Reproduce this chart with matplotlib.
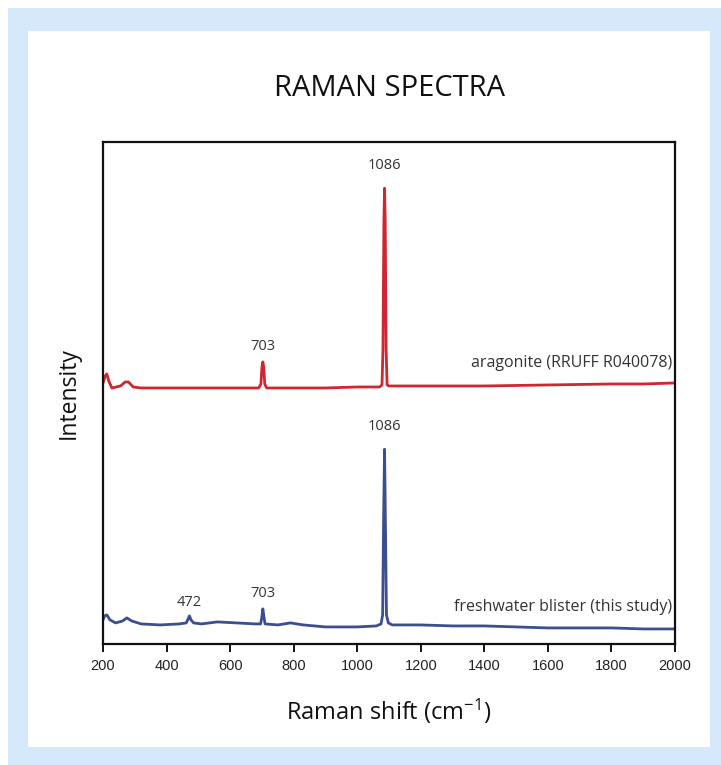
import matplotlib
matplotlib.use("Agg")
import matplotlib.pyplot as plt
from matplotlib.patches import Rectangle

# Raman shift (cm-1) and relative intensity
blister_x = [200, 205, 212, 222, 240, 262, 275, 290, 320, 380, 440, 462, 468, 472, 477, 485,
             510, 560, 620, 680, 696, 700, 703, 706, 710, 750, 790, 830, 900, 1000, 1060, 1075,
             1080, 1083, 1086, 1089, 1092, 1098, 1110, 1200, 1300, 1400, 1500, 1600, 1700,
             1800, 1900, 2000]
blister_y = [4.8, 5.6, 5.8, 4.8, 4.2, 4.6, 5.2, 4.6, 4.0, 3.8, 4.0, 4.2, 5.0, 5.6, 4.8, 4.2,
             4.0, 4.4, 4.2, 4.0, 4.0, 5.4, 7.0, 5.6, 4.0, 3.8, 4.2, 3.8, 3.4, 3.4, 3.6, 4.0,
             5.8, 24.7, 38.8, 22.7, 5.8, 4.2, 3.8, 3.8, 3.6, 3.6, 3.4, 3.2, 3.2,
             3.2, 3.0, 3.0]

aragonite_x = [200, 207, 212, 218, 228, 255, 270, 280, 295, 320, 500, 690, 697, 700, 703, 706,
               709, 715, 800, 900, 1000, 1070, 1078, 1081, 1084, 1086, 1088, 1091, 1094, 1100,
               1200, 1400, 1600, 1800, 1900, 2000]
aragonite_y = [52.0, 53.4, 53.8, 52.4, 51.0, 51.4, 52.2, 52.2, 51.2, 51.0, 51.0, 51.0, 51.8, 55.0,
               56.2, 55.0, 51.8, 51.0, 51.0, 51.0, 51.2, 51.2, 51.6, 58.6, 84.5, 90.8, 84.5, 58.6,
               51.6, 51.4, 51.4, 51.4, 51.6, 51.8, 51.8, 52.0]

peak_labels_blister = [(472, "472"), (703, "703"), (1086, "1086")]
peak_labels_aragonite = [(703, "703"), (1086, "1086")]
xticks = [200, 400, 600, 800, 1000, 1200, 1400, 1600, 1800, 2000]

RED = "#d0262f"
BLUE = "#3b4f8f"
# label offset above the peak (points)
label_gap = {"472": 4, "703": 6, "1086": 11}

plt.rcParams["font.family"] = ["Open Sans", "DejaVu Sans"]
plt.rcParams["mathtext.fontset"] = "custom"
plt.rcParams["mathtext.rm"] = "Open Sans"
plt.rcParams["mathtext.it"] = "Open Sans"

W, H = 721, 765
fig = plt.figure(figsize=(W / 100, H / 100), dpi=100, facecolor="white")

# light blue frame and white panel
fig.patches.append(Rectangle((8 / W, 0), 1 - 8 / W, 1 - 8 / H, transform=fig.transFigure,
                             facecolor="#d5e9fa", edgecolor="none", zorder=-2))
fig.patches.append(Rectangle((28 / W, 1 - 747 / H), (710 - 28) / W, (747 - 31) / H,
                             transform=fig.transFigure, facecolor="white", edgecolor="none",
                             zorder=-1))

ax = fig.add_axes([103 / W, 1 - 644 / H, (675 - 103) / W, (644 - 142) / H])
ax.plot(aragonite_x, aragonite_y, color=RED, lw=2.0, solid_joinstyle="round")
ax.plot(blister_x, blister_y, color=BLUE, lw=2.0, solid_joinstyle="round")

ax.set_xlim(200, 2000)
ax.set_ylim(0, 100)
ax.set_xticks(xticks)
ax.set_xticklabels([str(t) for t in xticks], family="Liberation Sans", fontsize=10.5, color="#222222")
ax.set_yticks([])
ax.tick_params(axis="x", direction="out", length=6, width=1.3, pad=5)
for s in ax.spines.values():
    s.set_linewidth(1.6)
    s.set_color("#111111")

def ylookup(xs, ys, x0):
    return ys[xs.index(x0)]

for x0, lab in peak_labels_aragonite:
    ax.annotate(lab, (x0, ylookup(aragonite_x, aragonite_y, x0)), xytext=(0, label_gap[lab]),
                textcoords="offset points", ha="center", va="bottom", fontsize=10.5, color="#333333")
for x0, lab in peak_labels_blister:
    ax.annotate(lab, (x0, ylookup(blister_x, blister_y, x0)), xytext=(0, label_gap[lab]),
                textcoords="offset points", ha="center", va="bottom", fontsize=10.5, color="#333333")

ax.text(1990, 54.3, "aragonite (RRUFF R040078)", ha="right", va="bottom", fontsize=11.5, color="#333333")
ax.text(1990, 5.8, "freshwater blister (this study)", ha="right", va="bottom", fontsize=11.5, color="#333333")

ax.set_xlabel("Raman shift (cm$^{-1}$)", fontsize=17, labelpad=17, color="#111111")
ax.set_ylabel("Intensity", fontsize=16.5, labelpad=16, color="#111111")
ax.set_title("RAMAN SPECTRA", fontsize=21, pad=33, color="#111111")

fig.savefig("out.png", dpi=100, facecolor=fig.get_facecolor())
